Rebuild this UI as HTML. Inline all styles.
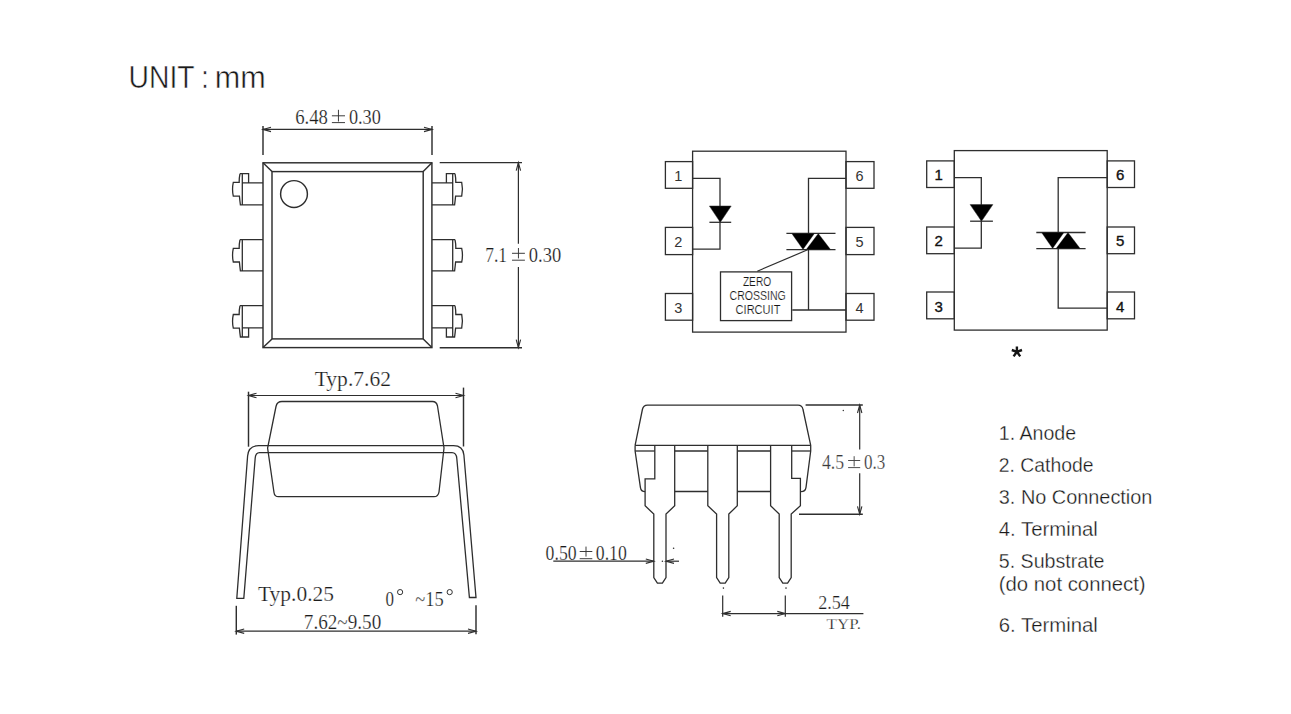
<!DOCTYPE html>
<html><head><meta charset="utf-8"><title>Package Dimensions</title>
<style>
html,body{margin:0;padding:0;background:#fff;}
body{width:1291px;height:714px;overflow:hidden;position:relative;font-family:"Liberation Sans", sans-serif;}
svg{position:absolute;left:0;top:0;}
</style></head><body>
<svg width="1291" height="714" viewBox="0 0 1291 714">
<text x="128.6" y="87.8" font-family="&quot;Liberation Sans&quot;, sans-serif" font-size="31.5" fill="#1a1a1a" stroke="#fff" stroke-width="0.5" textLength="66" lengthAdjust="spacingAndGlyphs">UNIT</text>
<text x="201.2" y="87.8" font-family="&quot;Liberation Sans&quot;, sans-serif" font-size="31.5" fill="#1a1a1a" stroke="#fff" stroke-width="0.5" textLength="7.5" lengthAdjust="spacingAndGlyphs">:</text>
<text x="214.8" y="87.8" font-family="&quot;Liberation Sans&quot;, sans-serif" font-size="31.5" fill="#1a1a1a" stroke="#fff" stroke-width="0.5" textLength="51" lengthAdjust="spacingAndGlyphs">mm</text>
<text x="295.2" y="123.6" font-family="&quot;Liberation Serif&quot;, serif" font-size="20" fill="#1c1c1c" stroke="#fff" stroke-width="0.22" textLength="32.8" lengthAdjust="spacingAndGlyphs">6.48</text>
<path d="M331.9,115.8 L345,115.8 M338.45,109.8 L338.45,121.5 M331.9,122.6 L345,122.6" stroke="#333" stroke-width="0.95" fill="none"/>
<text x="348.9" y="123.6" font-family="&quot;Liberation Serif&quot;, serif" font-size="20" fill="#1c1c1c" stroke="#fff" stroke-width="0.22" textLength="32" lengthAdjust="spacingAndGlyphs">0.30</text>
<line x1="263" y1="126" x2="263" y2="155" stroke="#2e2e2e" stroke-width="1.45"/>
<line x1="432" y1="126" x2="432" y2="155" stroke="#2e2e2e" stroke-width="1.45"/>
<line x1="263" y1="129.4" x2="432" y2="129.4" stroke="#2e2e2e" stroke-width="1.2"/>
<path d="M271.00,131.60 L263,129.4 L271.00,127.20" stroke="#2e2e2e" stroke-width="1.1" fill="none"/>
<path d="M424.00,127.20 L432,129.4 L424.00,131.60" stroke="#2e2e2e" stroke-width="1.1" fill="none"/>
<rect x="263" y="162.8" width="168.9" height="184.8" stroke="#2e2e2e" stroke-width="1.45" fill="none"/>
<rect x="272" y="171.6" width="151.2" height="167.3" stroke="#2e2e2e" stroke-width="1.45" fill="none"/>
<line x1="263" y1="162.8" x2="272" y2="171.6" stroke="#2e2e2e" stroke-width="1.45"/>
<line x1="431.9" y1="162.8" x2="423.2" y2="171.6" stroke="#2e2e2e" stroke-width="1.45"/>
<line x1="263" y1="347.6" x2="272" y2="338.9" stroke="#2e2e2e" stroke-width="1.45"/>
<line x1="431.9" y1="347.6" x2="423.2" y2="338.9" stroke="#2e2e2e" stroke-width="1.45"/>
<circle cx="294" cy="194" r="13.4" stroke="#2e2e2e" stroke-width="1.45" fill="none"/>
<path d="M263,182.79999999999998 L242.3,182.79999999999998 M263,204.9 L242.3,204.9 M242.3,173.6 L242.3,204.9 M240,173.6 L248.6,173.6 L248.6,182.79999999999998 M240,173.6 Q239.1,178.02499999999998 239.2,182.45 L233.3,182.45 Q231.8,189.25 233.3,196.05 L239.4,196.05 Q239.8,200.47500000000002 240.4,204.9 L242.3,204.9 M240,173.6 L242.3,173.6" stroke="#2e2e2e" stroke-width="1.3" fill="none" />
<path d="M 432.00,182.79999999999998 L 452.70,182.79999999999998 M 432.00,204.9 L 452.70,204.9 M 452.70,173.6 L 452.70,204.9 M 455.00,173.6 L 446.40,173.6 L 446.40,182.79999999999998 M 455.00,173.6 Q 455.90,178.02499999999998 455.80,182.45 L 461.70,182.45 Q 463.20,189.25 461.70,196.05 L 455.60,196.05 Q 455.20,200.47500000000002 454.60,204.9 L 452.70,204.9 M 455.00,173.6 L 452.70,173.6" stroke="#2e2e2e" stroke-width="1.3" fill="none" />
<path d="M263,239.6 L242.3,239.6 M263,270.8 L242.3,270.8 M242.3,239.6 L242.3,270.8 M240,239.6 Q239.1,244.0 239.2,248.39999999999998 L233.3,248.39999999999998 Q231.8,255.2 233.3,262.0 L239.4,262.0 Q239.8,266.4 240.4,270.8 L242.3,270.8 M240,239.6 L242.3,239.6" stroke="#2e2e2e" stroke-width="1.3" fill="none" />
<path d="M 432.00,239.6 L 452.70,239.6 M 432.00,270.8 L 452.70,270.8 M 452.70,239.6 L 452.70,270.8 M 455.00,239.6 Q 455.90,244.0 455.80,248.39999999999998 L 461.70,248.39999999999998 Q 463.20,255.2 461.70,262.0 L 455.60,262.0 Q 455.20,266.4 454.60,270.8 L 452.70,270.8 M 455.00,239.6 L 452.70,239.6" stroke="#2e2e2e" stroke-width="1.3" fill="none" />
<path d="M263,305.6 L242.3,305.6 M263,327.8 L242.3,327.8 M242.3,305.6 L242.3,337 M240,337 L248.6,337 L248.6,327.8 M240,305.6 Q239.1,310.05 239.2,314.5 L233.3,314.5 Q231.8,321.3 233.3,328.1 L239.4,328.1 Q239.8,332.55 240.4,337 L242.3,337 M240,305.6 L242.3,305.6" stroke="#2e2e2e" stroke-width="1.3" fill="none" />
<path d="M 432.00,305.6 L 452.70,305.6 M 432.00,327.8 L 452.70,327.8 M 452.70,305.6 L 452.70,337.0 M 455.00,337.0 L 446.40,337.0 L 446.40,327.8 M 455.00,305.6 Q 455.90,310.05 455.80,314.5 L 461.70,314.5 Q 463.20,321.3 461.70,328.1 L 455.60,328.1 Q 455.20,332.55 454.60,337.0 L 452.70,337.0 M 455.00,305.6 L 452.70,305.6" stroke="#2e2e2e" stroke-width="1.3" fill="none" />
<line x1="439.7" y1="162.6" x2="522" y2="162.6" stroke="#2e2e2e" stroke-width="1.45"/>
<line x1="439.7" y1="347.7" x2="522" y2="347.7" stroke="#2e2e2e" stroke-width="1.45"/>
<line x1="518.4" y1="162.6" x2="518.4" y2="243.8" stroke="#2e2e2e" stroke-width="1.2"/>
<line x1="518.4" y1="266.9" x2="518.4" y2="347.7" stroke="#2e2e2e" stroke-width="1.2"/>
<path d="M516.20,170.60 L518.4,162.6 L520.60,170.60" stroke="#2e2e2e" stroke-width="1.1" fill="none"/>
<path d="M520.60,339.70 L518.4,347.7 L516.20,339.70" stroke="#2e2e2e" stroke-width="1.1" fill="none"/>
<text x="485.2" y="262" font-family="&quot;Liberation Serif&quot;, serif" font-size="20" fill="#1c1c1c" stroke="#fff" stroke-width="0.22" textLength="21.8" lengthAdjust="spacingAndGlyphs">7.1</text>
<path d="M512,253.3 L524.9,253.3 M518.45,248 L518.45,258.4 M512,260.2 L524.9,260.2" stroke="#333" stroke-width="0.95" fill="none"/>
<text x="528.8" y="262" font-family="&quot;Liberation Serif&quot;, serif" font-size="20" fill="#1c1c1c" stroke="#fff" stroke-width="0.22" textLength="32.4" lengthAdjust="spacingAndGlyphs">0.30</text>
<text x="314.7" y="386" font-family="&quot;Liberation Serif&quot;, serif" font-size="20" fill="#1c1c1c" stroke="#fff" stroke-width="0.22" textLength="76.3" lengthAdjust="spacingAndGlyphs">Typ.7.62</text>
<line x1="248.5" y1="391.7" x2="248.5" y2="446.7" stroke="#2e2e2e" stroke-width="1.45"/>
<line x1="463.5" y1="387.6" x2="463.5" y2="446.5" stroke="#2e2e2e" stroke-width="1.45"/>
<line x1="248.5" y1="395.5" x2="463.5" y2="395.5" stroke="#2e2e2e" stroke-width="1.2"/>
<path d="M256.50,397.70 L248.5,395.5 L256.50,393.30" stroke="#2e2e2e" stroke-width="1.1" fill="none"/>
<path d="M455.50,393.30 L463.5,395.5 L455.50,397.70" stroke="#2e2e2e" stroke-width="1.1" fill="none"/>
<path d="M282,401.5 L432.5,401.5 Q436.5,401.5 437.5,406 L444,448 L439,492 Q438.2,496.7 434,496.7 L278.5,496.7 Q274.5,496.7 274,492.5 L267.6,448 L276,406.5 Q277,401.5 282,401.5 Z" stroke="#2e2e2e" stroke-width="1.3" fill="none" />
<path d="M236.8,598.3 L247.6,456 Q248.4,445.6 258.7,445.6 L453.5,445.6 Q463,445.6 463.9,455 L476,597.5 L469.4,597.5 L456.8,458.5 Q456.4,452.6 452,452.6 L259.5,452.6 Q255.6,452.6 255.2,458 L243.8,598.3 Z" stroke="#2e2e2e" stroke-width="1.3" fill="none" />
<text x="258" y="600.5" font-family="&quot;Liberation Serif&quot;, serif" font-size="20" fill="#1c1c1c" stroke="#fff" stroke-width="0.22" textLength="76" lengthAdjust="spacingAndGlyphs">Typ.0.25</text>
<text x="385.6" y="605.7" font-family="&quot;Liberation Serif&quot;, serif" font-size="20" fill="#1c1c1c" stroke="#fff" stroke-width="0.22" textLength="8.5" lengthAdjust="spacingAndGlyphs">0</text>
<circle cx="400.1" cy="592.1" r="2.6" stroke="#333" stroke-width="1" fill="none"/>
<text x="415.3" y="605.7" font-family="&quot;Liberation Serif&quot;, serif" font-size="20" fill="#1c1c1c" stroke="#fff" stroke-width="0.22" textLength="28.5" lengthAdjust="spacingAndGlyphs">~15</text>
<circle cx="449.7" cy="592.1" r="2.6" stroke="#333" stroke-width="1" fill="none"/>
<line x1="236.3" y1="605.8" x2="236.3" y2="634.6" stroke="#2e2e2e" stroke-width="1.45"/>
<line x1="476" y1="605.2" x2="476" y2="634.2" stroke="#2e2e2e" stroke-width="1.45"/>
<line x1="236.2" y1="631.2" x2="476" y2="631.2" stroke="#2e2e2e" stroke-width="1.2"/>
<path d="M244.20,633.40 L236.2,631.2 L244.20,629.00" stroke="#2e2e2e" stroke-width="1.1" fill="none"/>
<path d="M468.00,629.00 L476,631.2 L468.00,633.40" stroke="#2e2e2e" stroke-width="1.1" fill="none"/>
<text x="303.8" y="629.2" font-family="&quot;Liberation Serif&quot;, serif" font-size="20" fill="#1c1c1c" stroke="#fff" stroke-width="0.22" textLength="77.5" lengthAdjust="spacingAndGlyphs">7.62~9.50</text>
<path d="M635.1,445.4 L642.4,409.5 Q643.3,405.2 647.5,405.2 L798,405.2 Q802.2,405.2 803,409.5 L810.7,445.4 L810.7,451 L806,487.3 Q805.4,491.6 801,491.6 L800.4,491.6 M635.1,445.4 L635.1,451 L640.4,487.3 Q641,491.6 645.1,491.6" stroke="#2e2e2e" stroke-width="1.3" fill="none" />
<line x1="635.1" y1="445.4" x2="810.7" y2="445.4" stroke="#2e2e2e" stroke-width="1.3"/>
<line x1="635.1" y1="451" x2="654.8" y2="451" stroke="#2e2e2e" stroke-width="1.3"/>
<line x1="674.7" y1="451" x2="707.8" y2="451" stroke="#2e2e2e" stroke-width="1.3"/>
<line x1="737.3" y1="451" x2="770.6" y2="451" stroke="#2e2e2e" stroke-width="1.3"/>
<line x1="791.7" y1="451" x2="810.7" y2="451" stroke="#2e2e2e" stroke-width="1.3"/>
<line x1="674.7" y1="491.5" x2="707.8" y2="491.5" stroke="#2e2e2e" stroke-width="1.3"/>
<line x1="737.3" y1="491.5" x2="770.6" y2="491.5" stroke="#2e2e2e" stroke-width="1.3"/>
<path d="M654.8,445.4 L654.8,478.9 L645.1,478.9 L645.1,505.8 L653.8,514 L653.8,577.6 L657.4,583.2 L662.4,583.2 L666.0,577.6 L666.0,514 L674.7,505.8 L674.7,445.4" stroke="#2e2e2e" stroke-width="1.3" fill="none" />
<path d="M707.8,445.4 L707.8,505.8 L716.6,514 L716.6,577.6 L720.2,583.2 L725.1999999999999,583.2 L728.8,577.6 L728.8,514 L737.3,505.8 L737.3,445.4" stroke="#2e2e2e" stroke-width="1.3" fill="none" />
<path d="M770.6,445.4 L770.6,505.8 L779.2,514 L779.2,577.6 L782.8000000000001,583.2 L787.6,583.2 L791.2,577.6 L791.2,514 L800.4,505.8 L800.4,478.3 L791.7,478.3 L791.7,445.4" stroke="#2e2e2e" stroke-width="1.3" fill="none" />
<line x1="805.6" y1="405" x2="862.8" y2="405" stroke="#2e2e2e" stroke-width="1.45"/>
<line x1="799" y1="514.3" x2="862.8" y2="514.3" stroke="#2e2e2e" stroke-width="1.45"/>
<line x1="859.7" y1="405" x2="859.7" y2="449.6" stroke="#2e2e2e" stroke-width="1.2"/>
<line x1="859.7" y1="473.3" x2="859.7" y2="514.3" stroke="#2e2e2e" stroke-width="1.2"/>
<path d="M857.50,413.00 L859.7,405 L861.90,413.00" stroke="#2e2e2e" stroke-width="1.1" fill="none"/>
<path d="M861.90,506.30 L859.7,514.3 L857.50,506.30" stroke="#2e2e2e" stroke-width="1.1" fill="none"/>
<text x="821.9" y="468.9" font-family="&quot;Liberation Serif&quot;, serif" font-size="20" fill="#3a3a3a" stroke="#fff" stroke-width="0.22" textLength="22.2" lengthAdjust="spacingAndGlyphs">4.5</text>
<path d="M848.1,460.5 L860.2,460.5 M854.1500000000001,456.2 L854.1500000000001,466.4 M848.1,467.6 L860.2,467.6" stroke="#444" stroke-width="0.95" fill="none"/>
<text x="864" y="468.9" font-family="&quot;Liberation Serif&quot;, serif" font-size="20" fill="#3a3a3a" stroke="#fff" stroke-width="0.22" textLength="21.3" lengthAdjust="spacingAndGlyphs">0.3</text>
<text x="545.6" y="559.9" font-family="&quot;Liberation Serif&quot;, serif" font-size="20" fill="#1c1c1c" stroke="#fff" stroke-width="0.22" textLength="31" lengthAdjust="spacingAndGlyphs">0.50</text>
<path d="M579.7,551.5 L592.3,551.5 M586.0,546.6 L586.0,556.6 M579.7,558.7 L592.3,558.7" stroke="#333" stroke-width="0.95" fill="none"/>
<text x="595.8" y="559.9" font-family="&quot;Liberation Serif&quot;, serif" font-size="20" fill="#1c1c1c" stroke="#fff" stroke-width="0.22" textLength="31" lengthAdjust="spacingAndGlyphs">0.10</text>
<line x1="553.3" y1="561.2" x2="653.8" y2="561.2" stroke="#2e2e2e" stroke-width="1.2"/>
<path d="M645.80,559.00 L653.8,561.2 L645.80,563.40" stroke="#2e2e2e" stroke-width="1.1" fill="none"/>
<line x1="679" y1="561.2" x2="666.0" y2="561.2" stroke="#2e2e2e" stroke-width="1.2"/>
<path d="M674.00,563.40 L666.0,561.2 L674.00,559.00" stroke="#2e2e2e" stroke-width="1.1" fill="none"/>
<circle cx="662.4" cy="561.2" r="0.8" fill="#2e2e2e"/>
<circle cx="673.6" cy="548.3" r="0.8" fill="#2e2e2e"/>
<circle cx="843.3" cy="410.5" r="0.7" fill="#2e2e2e"/>
<line x1="722.7" y1="595.5" x2="722.7" y2="616.7" stroke="#2e2e2e" stroke-width="1.2"/>
<line x1="785.3" y1="595.5" x2="785.3" y2="616.7" stroke="#2e2e2e" stroke-width="1.2"/>
<circle cx="723.4" cy="588.1" r="0.8" fill="#2e2e2e"/>
<circle cx="786" cy="588.1" r="0.8" fill="#2e2e2e"/>
<line x1="722.7" y1="613.6" x2="863.4" y2="613.6" stroke="#2e2e2e" stroke-width="1.2"/>
<path d="M730.70,615.80 L722.7,613.6 L730.70,611.40" stroke="#2e2e2e" stroke-width="1.1" fill="none"/>
<path d="M777.30,611.40 L785.3,613.6 L777.30,615.80" stroke="#2e2e2e" stroke-width="1.1" fill="none"/>
<text x="818.2" y="608.8" font-family="&quot;Liberation Serif&quot;, serif" font-size="18.2" fill="#1c1c1c" stroke="#fff" stroke-width="0.22" textLength="31.7" lengthAdjust="spacingAndGlyphs">2.54</text>
<text x="826.6" y="628.6" font-family="&quot;Liberation Serif&quot;, serif" font-size="14.5" fill="#1c1c1c" stroke="#fff" stroke-width="0.25" textLength="34.4" lengthAdjust="spacingAndGlyphs">TYP.</text>
<rect x="692.6" y="151.2" width="153.4" height="180.9" stroke="#2e2e2e" stroke-width="1.3" fill="none"/>
<rect x="665.4" y="161.6" width="27.2" height="26.700000000000017" stroke="#2e2e2e" stroke-width="1.3" fill="none"/>
<rect x="846" y="161.6" width="28" height="26.700000000000017" stroke="#2e2e2e" stroke-width="1.3" fill="none"/>
<rect x="665.4" y="227.4" width="27.2" height="27.19999999999999" stroke="#2e2e2e" stroke-width="1.3" fill="none"/>
<rect x="846" y="227.4" width="28" height="27.19999999999999" stroke="#2e2e2e" stroke-width="1.3" fill="none"/>
<rect x="665.4" y="293.5" width="27.2" height="26.69999999999999" stroke="#2e2e2e" stroke-width="1.3" fill="none"/>
<rect x="846" y="293.5" width="28" height="26.69999999999999" stroke="#2e2e2e" stroke-width="1.3" fill="none"/>
<text x="678.2" y="181.2" font-family="&quot;Liberation Sans&quot;, serif" font-size="14.5" fill="#333" text-anchor="middle" font-weight="normal" >1</text>
<text x="678.2" y="247.2" font-family="&quot;Liberation Sans&quot;, serif" font-size="14.5" fill="#333" text-anchor="middle" font-weight="normal" >2</text>
<text x="678.2" y="313.4" font-family="&quot;Liberation Sans&quot;, serif" font-size="14.5" fill="#333" text-anchor="middle" font-weight="normal" >3</text>
<text x="859.6" y="181.2" font-family="&quot;Liberation Sans&quot;, serif" font-size="14.5" fill="#333" text-anchor="middle" font-weight="normal" >6</text>
<text x="859.6" y="247.2" font-family="&quot;Liberation Sans&quot;, serif" font-size="14.5" fill="#333" text-anchor="middle" font-weight="normal" >5</text>
<text x="859.6" y="313.4" font-family="&quot;Liberation Sans&quot;, serif" font-size="14.5" fill="#333" text-anchor="middle" font-weight="normal" >4</text>
<path d="M692.6,178.3 L720,178.3 L720,249.2 L692.6,249.2" stroke="#2e2e2e" stroke-width="1.3" fill="none" />
<path d="M709.4,206 L731.2,206 L720.3,222.3 Z" stroke="#2e2e2e" stroke-width="0.5" fill="#000" />
<line x1="709.4" y1="222.3" x2="731.2" y2="222.3" stroke="#2e2e2e" stroke-width="1.3"/>
<path d="M846,178.4 L808.5,178.4 L808.5,233.4 M808.5,249.6 L808.5,310 L846,310 M792.3,310 L808.5,310" stroke="#2e2e2e" stroke-width="1.3" fill="none" />
<line x1="786.4" y1="233.4" x2="835.5" y2="233.4" stroke="#2e2e2e" stroke-width="1.3"/>
<line x1="786.4" y1="249.6" x2="835.5" y2="249.6" stroke="#2e2e2e" stroke-width="1.3"/>
<path d="M791.7,233.4 L814.5,233.4 L803.0,249.6 Z" stroke="#2e2e2e" stroke-width="0.3" fill="#000" />
<path d="M818.3,233.4 L830.6,249.6 L806.2,249.6 Z" stroke="#2e2e2e" stroke-width="0.3" fill="#000" />
<line x1="757.3" y1="271.2" x2="807.6" y2="249.8" stroke="#2e2e2e" stroke-width="1.2"/>
<rect x="720.5" y="271.9" width="71.1" height="48.7" stroke="#2e2e2e" stroke-width="1.3" fill="none"/>
<text x="742.9" y="285.6" font-family="&quot;Liberation Sans&quot;, sans-serif" font-size="12" fill="#151515" stroke="#fff" stroke-width="0.16" textLength="28.3" lengthAdjust="spacingAndGlyphs">ZERO</text>
<text x="729.6" y="299.6" font-family="&quot;Liberation Sans&quot;, sans-serif" font-size="12" fill="#151515" stroke="#fff" stroke-width="0.16" textLength="56.2" lengthAdjust="spacingAndGlyphs">CROSSING</text>
<text x="735.6" y="313.6" font-family="&quot;Liberation Sans&quot;, sans-serif" font-size="12" fill="#151515" stroke="#fff" stroke-width="0.16" textLength="44.8" lengthAdjust="spacingAndGlyphs">CIRCUIT</text>
<rect x="954.3" y="150.6" width="152.9" height="179.5" stroke="#2e2e2e" stroke-width="1.3" fill="none"/>
<rect x="926.7" y="160.9" width="27.6" height="26.599999999999994" stroke="#2e2e2e" stroke-width="1.3" fill="none"/>
<rect x="1107.2" y="160.9" width="27.3" height="26.599999999999994" stroke="#2e2e2e" stroke-width="1.3" fill="none"/>
<rect x="926.7" y="227" width="27.6" height="26.69999999999999" stroke="#2e2e2e" stroke-width="1.3" fill="none"/>
<rect x="1107.2" y="227" width="27.3" height="26.69999999999999" stroke="#2e2e2e" stroke-width="1.3" fill="none"/>
<rect x="926.7" y="292" width="27.6" height="26.80000000000001" stroke="#2e2e2e" stroke-width="1.3" fill="none"/>
<rect x="1107.2" y="292" width="27.3" height="26.80000000000001" stroke="#2e2e2e" stroke-width="1.3" fill="none"/>
<text x="938.6999999999999" y="180" font-family="&quot;Liberation Sans&quot;, serif" font-size="15" fill="#111" text-anchor="middle" font-weight="normal" stroke="#111" stroke-width="0.35">1</text>
<text x="938.6999999999999" y="246" font-family="&quot;Liberation Sans&quot;, serif" font-size="15" fill="#111" text-anchor="middle" font-weight="normal" stroke="#111" stroke-width="0.35">2</text>
<text x="938.6999999999999" y="311.5" font-family="&quot;Liberation Sans&quot;, serif" font-size="15" fill="#111" text-anchor="middle" font-weight="normal" stroke="#111" stroke-width="0.35">3</text>
<text x="1120.2" y="180" font-family="&quot;Liberation Sans&quot;, serif" font-size="15" fill="#111" text-anchor="middle" font-weight="normal" stroke="#111" stroke-width="0.35">6</text>
<text x="1120.2" y="246" font-family="&quot;Liberation Sans&quot;, serif" font-size="15" fill="#111" text-anchor="middle" font-weight="normal" stroke="#111" stroke-width="0.35">5</text>
<text x="1120.2" y="311.5" font-family="&quot;Liberation Sans&quot;, serif" font-size="15" fill="#111" text-anchor="middle" font-weight="normal" stroke="#111" stroke-width="0.35">4</text>
<path d="M954.3,177.7 L981.3,177.7 L981.3,248.2 L954.3,248.2" stroke="#2e2e2e" stroke-width="1.3" fill="none" />
<path d="M970.1,204.6 L992.9,204.6 L981.5,221.2 Z" stroke="#2e2e2e" stroke-width="0.5" fill="#000" />
<line x1="970.1" y1="221.2" x2="992.9" y2="221.2" stroke="#2e2e2e" stroke-width="1.3"/>
<path d="M1107.2,177.7 L1058.2,177.7 L1058.2,232.5 M1058.2,248.6 L1058.2,308.2 L1107.2,308.2" stroke="#2e2e2e" stroke-width="1.3" fill="none" />
<line x1="1036.3" y1="232.5" x2="1085.6" y2="232.5" stroke="#2e2e2e" stroke-width="1.3"/>
<line x1="1036.3" y1="248.6" x2="1085.6" y2="248.6" stroke="#2e2e2e" stroke-width="1.3"/>
<path d="M1041.5,232.5 L1064,232.5 L1052.6,248.6 Z" stroke="#2e2e2e" stroke-width="0.3" fill="#000" />
<path d="M1068,232.5 L1080.2,248.6 L1056,248.6 Z" stroke="#2e2e2e" stroke-width="0.3" fill="#000" />
<path d="M1016.9,351.8 L1016.9,346.6 M1016.9,351.8 L1011.8,350 M1016.9,351.8 L1022,350 M1016.9,351.8 L1013.6,356.4 M1016.9,351.8 L1020.2,356.4" stroke="#151515" stroke-width="2.4" fill="none" />
<text x="998.8" y="439.8" font-family="&quot;Liberation Sans&quot;, sans-serif" font-size="20" fill="#1a1a1a" stroke="#fff" stroke-width="0.3" textLength="77.3" lengthAdjust="spacingAndGlyphs">1. Anode</text>
<text x="998.8" y="471.9" font-family="&quot;Liberation Sans&quot;, sans-serif" font-size="20" fill="#1a1a1a" stroke="#fff" stroke-width="0.3" textLength="94.8" lengthAdjust="spacingAndGlyphs">2. Cathode</text>
<text x="998.8" y="503.7" font-family="&quot;Liberation Sans&quot;, sans-serif" font-size="20" fill="#1a1a1a" stroke="#fff" stroke-width="0.3" textLength="153.6" lengthAdjust="spacingAndGlyphs">3. No Connection</text>
<text x="998.8" y="535.6" font-family="&quot;Liberation Sans&quot;, sans-serif" font-size="20" fill="#1a1a1a" stroke="#fff" stroke-width="0.3" textLength="99" lengthAdjust="spacingAndGlyphs">4. Terminal</text>
<text x="998.8" y="567.7" font-family="&quot;Liberation Sans&quot;, sans-serif" font-size="20" fill="#1a1a1a" stroke="#fff" stroke-width="0.3" textLength="105.7" lengthAdjust="spacingAndGlyphs">5. Substrate</text>
<text x="998.8" y="591" font-family="&quot;Liberation Sans&quot;, sans-serif" font-size="20" fill="#1a1a1a" stroke="#fff" stroke-width="0.3" textLength="146.8" lengthAdjust="spacingAndGlyphs">(do not connect)</text>
<text x="998.8" y="631.8" font-family="&quot;Liberation Sans&quot;, sans-serif" font-size="20" fill="#1a1a1a" stroke="#fff" stroke-width="0.3" textLength="99" lengthAdjust="spacingAndGlyphs">6. Terminal</text>
</svg>
</body></html>
